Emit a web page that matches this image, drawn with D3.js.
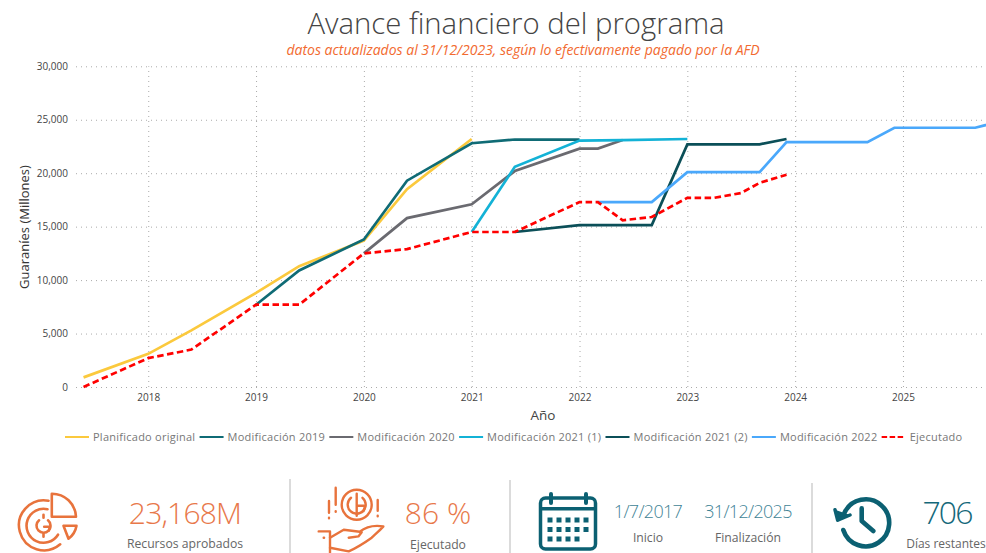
<!DOCTYPE html>
<html>
<head>
<meta charset="utf-8">
<script src="https://cdn.jsdelivr.net/npm/d3@7"></script>
<style>
html,body{margin:0;padding:0;background:#fff;overflow:hidden}
text{font-family:"Open Sans",sans-serif}
</style>
</head>
<body>
<svg id="chart" width="986" height="553"></svg>
<script>
//values, x = year (fraction), y = millions of guaranies
var yearTicks=[2018,2019,2020,2021,2022,2023,2024,2025];
var valueTicks=[0,5000,10000,15000,20000,25000,30000];

var planificadoX=[2017.4,2018,2018.4,2019,2019.4,2020,2020.4,2021];
var planificadoY=[900,3100,5300,8800,11300,13700,18500,23200];
var mod2019X=[2019,2019.4,2020,2020.4,2021,2021.4,2022];
var mod2019Y=[7700,10900,13800,19300,22800,23150,23150];
var mod2020X=[2020,2020.4,2021,2021.4,2022,2022.17,2022.4];
var mod2020Y=[12500,15800,17100,20200,22300,22300,23100];
var mod2021aX=[2021,2021.4,2022,2022.4,2023];
var mod2021aY=[14500,20600,23050,23100,23200];
var mod2021bX=[2021.4,2022,2022.67,2023,2023.67,2023.92];
var mod2021bY=[14500,15150,15150,22700,22700,23200];
var mod2022X=[2022.17,2022.67,2023,2023.67,2023.92,2024,2024.67,2024.92,2025.67,2025.92];
var mod2022Y=[17300,17300,20100,20100,22900,22900,22900,24250,24250,24900];
var ejecutadoX=[2017.4,2018,2018.4,2019,2019.4,2020,2020.4,2021,2021.4,2022,2022.17,2022.4,2022.67,2023,2023.25,2023.5,2023.67,2023.92];
var ejecutadoY=[0,2700,3500,7700,7700,12500,12900,14500,14500,17300,17300,15600,15900,17700,17700,18150,19100,19850];

var seriesNames=["Planificado original","Modificación 2019","Modificación 2020","Modificación 2021 (1)","Modificación 2021 (2)","Modificación 2022","Ejecutado"];
var seriesX=[planificadoX,mod2019X,mod2020X,mod2021aX,mod2021bX,mod2022X,ejecutadoX];
var seriesY=[planificadoY,mod2019Y,mod2020Y,mod2021aY,mod2021bY,mod2022Y,ejecutadoY];
var seriesColors=["#fbc93d","#0f6b75","#6a6a70","#13b2d6","#0b4f58","#4aa8fb","#ff0000"];

var orange="#e8733c", teal="#0b6072";

var svg=d3.select("#chart");
var x=d3.scaleLinear().domain([2017.33,2025.77]).range([76,986]);
var y=d3.scaleLinear().domain([0,30000]).range([387,66.3]);

//title
svg.append("text").text("Avance financiero del programa")
    .attr("x",516).attr("y",34).attr("text-anchor","middle")
    .style("font-size","29.3px").style("font-weight",300).style("fill","#444");
svg.append("text").text("datos actualizados al 31/12/2023, según lo efectivamente pagado por la AFD")
    .attr("x",523).attr("y",55).attr("text-anchor","middle")
    .style("font-size","14px").style("font-weight",400).style("font-style","italic").style("fill","#f26a30");

//axes, ticks are used as the dotted grid
var yAxis=d3.axisLeft(y).tickValues(valueTicks).tickSize(-910).tickPadding(8).tickFormat(d3.format(","));
var xAxis=d3.axisBottom(x).tickValues(yearTicks).tickSize(-320.7).tickPadding(7).tickFormat(d3.format("d"));
var gy=svg.append("g").attr("transform","translate(76,0)").call(yAxis);
var gx=svg.append("g").attr("transform","translate(0,387)").call(xAxis);
[gx,gy].forEach(function (g) {
    g.select(".domain").remove();
    g.selectAll("line").attr("stroke","#aaa").attr("stroke-width",1).attr("stroke-dasharray","1 4");
    g.selectAll("text").style("font-size","10px").style("fill","#444");
});

svg.append("text").text("Año").attr("x",543).attr("y",420).attr("text-anchor","middle")
    .style("font-size","13.5px").style("fill","#444");
svg.append("text").text("Guaraníes (Millones)")
    .attr("transform","translate(29,227) rotate(-90)").attr("text-anchor","middle")
    .style("font-size","13px").style("fill","#333");

//lines
svg.append("clipPath").attr("id","plotClip").append("rect")
    .attr("x",76).attr("y",60).attr("width",910).attr("height",335);
var line=d3.line().x(function (d) {return x(d[0])}).y(function (d) {return y(d[1])});
svg.append("g").attr("clip-path","url(#plotClip)")
    .selectAll("path").data(seriesNames).enter().append("path")
    .attr("d",function (d,i) {return line(d3.zip(seriesX[i],seriesY[i]))})
    .attr("fill","none")
    .attr("stroke",function (d,i) {return seriesColors[i]})
    .attr("stroke-width",2.7)
    .attr("stroke-dasharray",function (d,i) {return i==6?"6.5 3.5":null});

//legend, flows left to right
var legendX=65;
seriesNames.forEach(function (name,i) {
    var g=svg.append("g");
    g.append("line").attr("x1",legendX).attr("x2",legendX+24).attr("y1",437).attr("y2",437)
        .attr("stroke",seriesColors[i]).attr("stroke-width",2)
        .attr("stroke-dasharray",i==6?"5.5 2.5":null);
    var t=g.append("text").text(name).attr("x",legendX+28).attr("y",441)
        .style("font-size","11px").style("fill","#777").style("letter-spacing","0.25px");
    legendX+=28+t.node().getComputedTextLength()+4.2;
});

//separators of the lower band
[[290,479],[510,480],[812,483]].forEach(function (s) {
    svg.append("line").attr("x1",s[0]).attr("x2",s[0]).attr("y1",s[1]).attr("y2",553)
        .attr("stroke","#c8c8c8").attr("stroke-width",1.3);
});

function kpi(txt,px,py,size,color,weight,spacing) {
    svg.append("text").text(txt).attr("x",px).attr("y",py).attr("text-anchor","middle")
        .style("font-size",size+"px").style("fill",color).style("font-weight",weight||400)
        .style("letter-spacing",(spacing||0)+"px");
}
kpi("23,168M",185,524,30,"#e8784a",300,-0.8);
kpi("Recursos aprobados",185,548,12.2,"#666");
kpi("86 %",438,524,30,"#e8784a",300);
kpi("Ejecutado",438,549,12.2,"#666");
kpi("1/7/2017",648,518,18,"#3f8496",300,-0.7);
kpi("31/12/2025",748,518,18,"#3f8496",300,-0.7);
kpi("Inicio",648,542,12.2,"#666");
kpi("Finalización",748,542,12.2,"#666");
kpi("706",947,524,32,"#14687a",300,-2);
kpi("Días restantes",946,548,12,"#666");

function stroked(g,color,w) {
    return g.attr("fill","none").attr("stroke",color).attr("stroke-width",w)
        .attr("stroke-linecap","round").attr("stroke-linejoin","round");
}

//guarani sign: open G with its bar
function guarani(g,r) {
    g.append("path").attr("d",d3.arc()({innerRadius:r,outerRadius:r,startAngle:0.7,endAngle:5.6}));
    g.append("path").attr("d","M"+(r*0.95)+",1 L"+(r*0.1)+",1 M"+(r*0.95)+",1 L"+(r*0.75)+","+(r*0.7));
}

//icon 1, rings and wedges
var ic1=stroked(svg.append("g").attr("transform","translate(43.5,525.7)"),orange,2.6);
ic1.append("path").attr("d","M5,-25 A25,25 0 1 0 16.7,18.6");
ic1.append("path").attr("d","M4,-16.5 A17,17 0 1 0 14.5,9");
ic1.append("path").attr("d","M8.3,-32 A24,24 0 0 1 32.5,-9 L8.3,-9 Z");
ic1.append("path").attr("d","M20,0 L33,0 C32,6 29,10 25,13 Z");
guarani(ic1,7);
ic1.append("path").attr("d","M0,-11 L0,-8 M0,8 L0,11");

//icon 2, coin over a hand
var ic2=stroked(svg.append("g").attr("transform","translate(356.7,504.7)"),orange,2.4);
ic2.append("circle").attr("r",15);
guarani(ic2,9);
ic2.append("path").attr("d","M0,-11 L0,11");
ic2.append("path").attr("d","M-21,-17 L-21,0 M-21,6.5 L-21,7 M-27.7,-3.7 L-27.7,8 M-27.7,13 L-27.7,13.5 M21,-4.7 L21,6 M21,11 L21,11.5");
ic2.append("path").attr("d","M-38,26.7 L-26.7,26.7 L-26.7,48 M-33,33 L-32.6,33");
ic2.append("path").attr("d","M-26.7,33 L-13,25 L3,27 C8,23 16,20 26.7,21.7 C22,27 18,30 15,33 C8,38 0,43 -8,46.7 L-26.7,43");
ic2.append("path").attr("d","M-8,33 L1.7,31.7 L5,27.5");

//icon 3, calendar
var ic3=svg.append("g").attr("transform","translate(539,493)");
stroked(ic3.append("rect").attr("x",1.5).attr("y",5).attr("width",55).attr("height",51).attr("rx",5),teal,3.5);
ic3.append("rect").attr("x",1.5).attr("y",14).attr("width",55).attr("height",3.5).attr("fill",teal);
stroked(ic3.append("path").attr("d","M12,1 L12,10 M47,1 L47,10"),teal,4);
for (var row=0;row<3;row++){
    for (var col=0;col<5;col++){
        if(row==2 && col==4){continue}
        ic3.append("rect").attr("x",8.5+col*9).attr("y",24.5+row*9.5).attr("width",5).attr("height",5).attr("fill",teal);
    }
}

//icon 4, clock with back arrow
var ic4=stroked(svg.append("g").attr("transform","translate(865,521.7)"),teal,4.6);
ic4.append("path").attr("d","M-20.5,-9 A23.5,23.5 0 1 1 -21.7,8.3");
ic4.append("path").attr("d","M-3.3,-13.3 L-3.3,-0.7 L8.3,9.3");
ic4.append("path").attr("d","M-30,-12 L-27.3,-1.5 L-15,-6.7").attr("fill",teal).attr("stroke-width",3.5);
</script>
</body>
</html>
